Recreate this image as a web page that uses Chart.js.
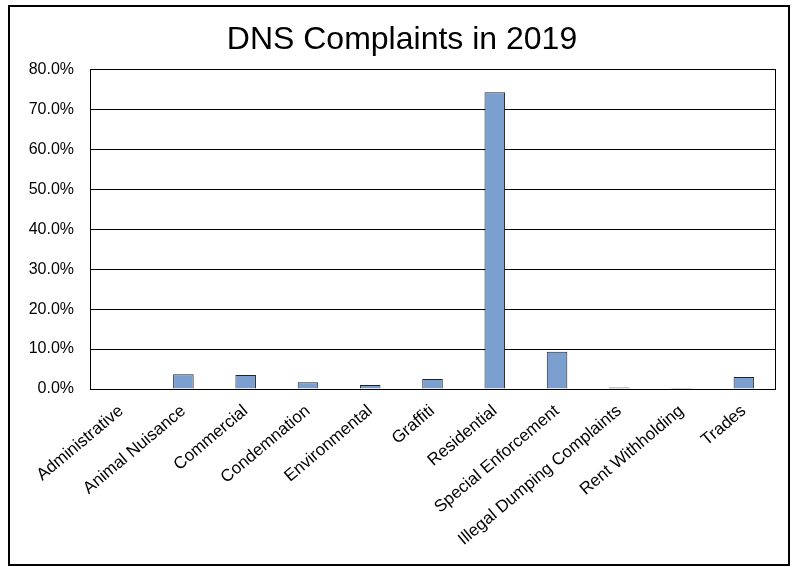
<!DOCTYPE html>
<html>
<head>
<meta charset="utf-8">
<script src="https://cdn.jsdelivr.net/npm/chart.js@4/dist/chart.umd.min.js"></script>
<style>
  html, body { margin: 0; padding: 0; background: #fff; }
  #wrap { position: relative; width: 800px; height: 567px; }
</style>
</head>
<body>
<div id="wrap"><canvas id="c" width="800" height="567"></canvas></div>
<script>
const titleText = "DNS Complaints in 2019";
const categories = ["Administrative", "Animal Nuisance", "Commercial", "Condemnation", "Environmental", "Graffiti", "Residential", "Special Enforcement", "Illegal Dumping Complaints", "Rent Withholding", "Trades"];
const percentValues = [0.15, 3.7, 3.5, 1.7, 1.0, 2.5, 74.3, 9.3, 0.4, 0.25, 3.0];
const yTickMax = 80;
const yTickStep = 10;

const frame = {
  id: 'frame',
  beforeDraw(chart) {
    const ctx = chart.ctx;
    ctx.save();
    ctx.fillStyle = '#fff';
    ctx.fillRect(0, 0, chart.width, chart.height);
    ctx.restore();
  },
  afterDraw(chart) {
    const ctx = chart.ctx;
    const a = chart.chartArea;
    ctx.save();
    ctx.strokeStyle = '#000';
    ctx.lineWidth = 1;
    ctx.strokeRect(Math.round(a.left) + 0.5, Math.round(a.top) + 0.5, Math.round(a.right - a.left), Math.round(a.bottom - a.top));
    ctx.lineWidth = 2;
    ctx.strokeRect(9, 6, 780, 559);
    ctx.restore();
  }
};

new Chart(document.getElementById('c'), {
  type: 'bar',
  data: {
    labels: categories,
    datasets: [{
      data: percentValues,
      backgroundColor: '#7B9FCF',
      borderColor: '#222',
      borderWidth: 1,
      barPercentage: 0.33,
      categoryPercentage: 1.0
    }]
  },
  options: {
    responsive: false,
    animation: false,
    layout: { padding: { left: 29, right: 25, top: 10, bottom: 0 } },
    plugins: {
      legend: { display: false },
      tooltip: { enabled: false },
      title: {
        display: true,
        text: titleText,
        color: '#000',
        font: { family: '"Liberation Sans", Arial, sans-serif', size: 32, weight: 'normal' },
        padding: { top: 11, bottom: 10 }
      }
    },
    scales: {
      x: {
        grid: { display: false, drawTicks: false },
        border: { display: true, color: '#000', width: 1 },
        ticks: {
          color: '#000',
          font: { family: '"Liberation Sans", Arial, sans-serif', size: 17 },
          maxRotation: 40,
          minRotation: 40,
          autoSkip: false,
          padding: 12
        },
        afterFit(scale) { scale.height = 178; }
      },
      y: {
        min: 0,
        max: yTickMax,
        grid: { color: '#000', lineWidth: 1, drawTicks: false },
        border: { display: true, color: '#000', width: 1 },
        ticks: {
          stepSize: yTickStep,
          color: '#000',
          font: { family: '"Liberation Sans", Arial, sans-serif', size: 16 },
          padding: 16,
          callback: v => v.toFixed(1) + '%'
        },
        afterFit(scale) { scale.width = 61; }
      }
    }
  },
  plugins: [frame]
});
</script>
</body>
</html>
